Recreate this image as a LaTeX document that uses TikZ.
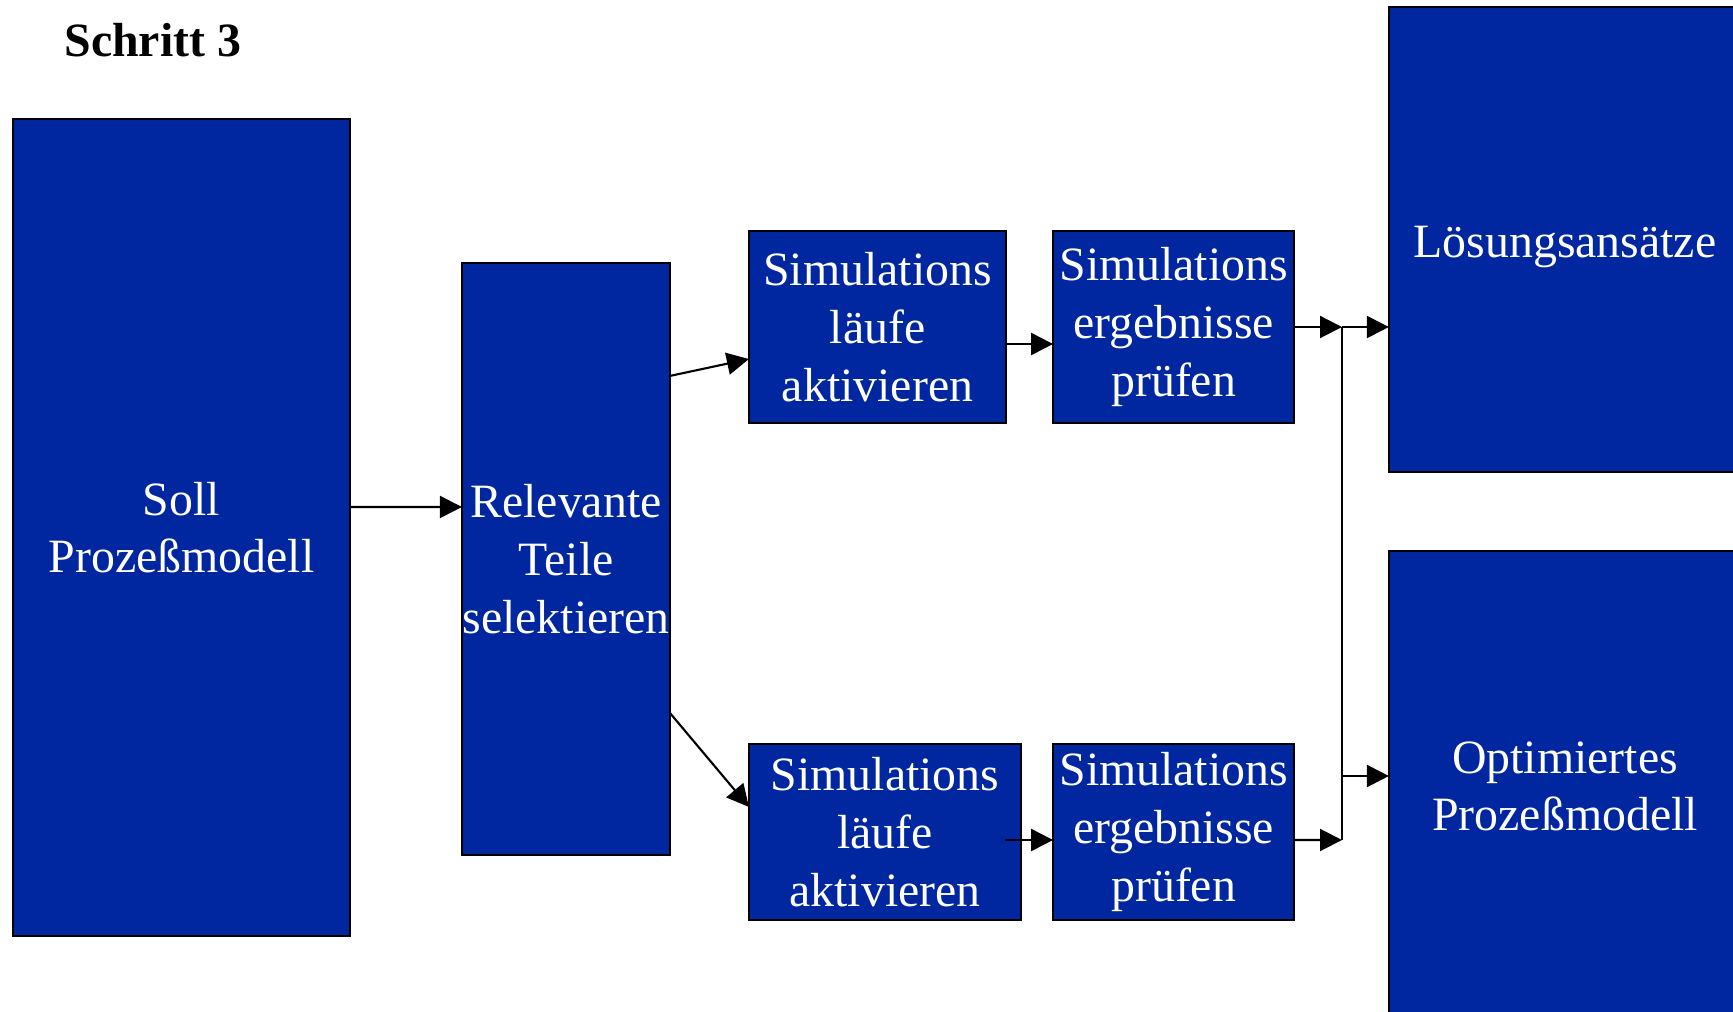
\documentclass[tikz,border=0pt]{standalone}
\usepackage{fontspec}
\setmainfont{Liberation Serif}
\usepackage{xcolor}
\usepackage{tikz}
\usetikzlibrary{arrows.meta,positioning}
\definecolor{boxblue}{RGB}{0,38,160}
\newcommand\boxfont{\fontsize{13.6}{16.4}\selectfont}

\begin{document}
\begin{tikzpicture}[x=0.01cm,y=-0.01cm,
                    >={Triangle[length=0.22cm,width=0.22cm]},
                    blue box/.style={draw=black,line width=0.7pt,fill=boxblue,text=white,
                      align=center,inner sep=0pt,outer sep=0pt,font=\boxfont},
                    flow/.style={->,line width=0.6pt}]

  \useasboundingbox (0,0) rectangle (1733,1012);

  \node[anchor=base west,font=\boxfont\bfseries] (title) at (52,57) {Schritt 3};

  \node[blue box,minimum width=3.37cm,minimum height=8.17cm] (soll) at (181.5,527.5) {Soll\\Prozeßmodell};
  \node[blue box,minimum width=2.08cm,minimum height=5.92cm] (relevante) at (566,559) {Relevante\\Teile\\selektieren};
  \node[blue box,minimum width=2.57cm,minimum height=1.92cm] (sim1) at (877.5,327) {Simulations\\läufe\\aktivieren};
  \node[blue box,minimum width=2.41cm,minimum height=1.92cm] (erg1) [right=0.47cm of sim1] {Simulations\\ergebnisse\\prüfen};
  \node[blue box,minimum width=2.72cm,minimum height=1.76cm] (sim2) at (885,832) {Simulations\\läufe\\aktivieren};
  \node[blue box,minimum width=2.41cm,minimum height=1.76cm] (erg2) [right=0.32cm of sim2] {Simulations\\ergebnisse\\prüfen};
  \node[blue box,minimum width=3.52cm,minimum height=4.65cm] (loesung) at (1565,239.5) {\raisebox{-0.07cm}[\height][\depth]{Lösungsansätze}};
  \node[blue box,minimum width=3.52cm,minimum height=4.71cm] (optim) at (1565,786.5) {Optimiertes\\Prozeßmodell};

  \coordinate (j1) at (1342,327);
  \coordinate (j2) at (1342,840);
  \coordinate (j3) at (1342,776);

  \path[flow]
    ([yshift=0.205cm]soll.east) edge ([yshift=0.52cm]relevante.west)
    ([yshift=1.83cm]relevante.east) edge ([yshift=-0.32cm]sim1.west)
    ([yshift=-1.54cm]relevante.east) edge ([yshift=0.25cm]sim2.west)
    ([yshift=-0.17cm]sim1.east) edge ([yshift=-0.17cm]erg1.west)
    ([yshift=-0.08cm]sim2.east) edge[shorten <=-0.16cm] ([yshift=-0.08cm]erg2.west)
    (erg1.east) edge (j1)
    ([yshift=-0.08cm]erg2.east) edge (j2)
    (j1) edge (loesung.west |- j1)
    (j3) edge (optim.west |- j3);

  \draw[line width=0.6pt] (j1) -- (j2);

\end{tikzpicture}
\end{document}
